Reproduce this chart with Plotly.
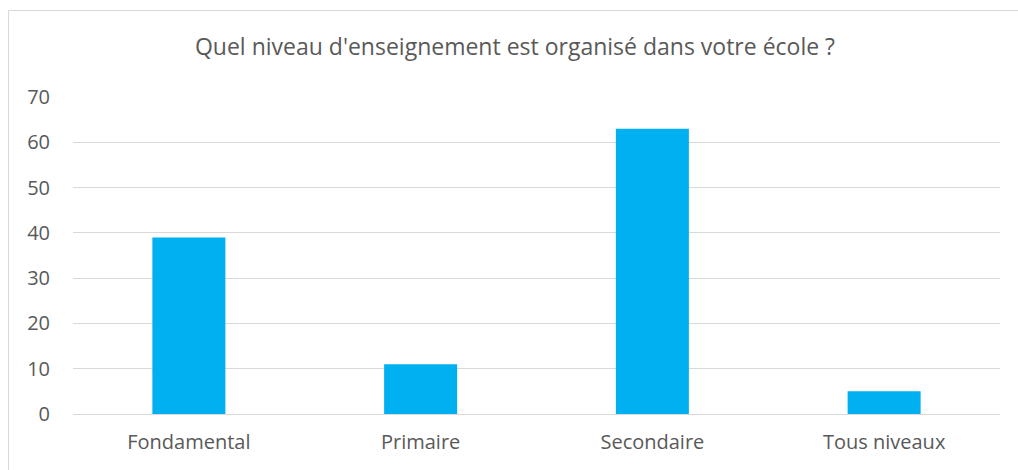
import plotly.graph_objects as go

categories = ["Fondamental", "Primaire", "Secondaire", "Tous niveaux"]
values = [39, 11, 63, 5]
y_ticks = [0, 10, 20, 30, 40, 50, 60, 70]
title_text = "Quel niveau d'enseignement est organisé dans votre école ?"

# body margin is removed, so the figure fills the page at (0, 0)
W, H = 1018, 470
ml, mr, mt, mb = 73, W - 1000, 97, H - 414
pw, ph = W - ml - mr, H - mt - mb

fig = go.Figure(go.Bar(x=categories, y=values, marker_color="#00B0F0",
                       marker_line_width=0, width=0.315))

def px2x(p):
    return (p - ml) / pw

def py2y(p):
    return 1 - (p - mt) / ph

border = dict(color="#D9D9D9", width=1)
fig.update_layout(
    width=W, height=H,
    margin=dict(l=ml, r=mr, t=mt, b=mb, autoexpand=False),
    plot_bgcolor="white", paper_bgcolor="white",
    font=dict(family="Open Sans", size=20, color="#595959"),
    title=dict(text=title_text, x=px2x(515), xanchor="center", y=1 - 47 / H,
               yanchor="middle", xref="paper",
               font=dict(size=23, color="#595959")),
    showlegend=False,
    xaxis=dict(showgrid=False, showline=False, ticks="", zeroline=False,
               ticklabelstandoff=14, automargin=False,
               tickfont=dict(size=20, color="#595959")),
    yaxis=dict(range=[0, 70], tickvals=y_ticks, showgrid=True, gridcolor="#D9D9D9",
               gridwidth=1, zeroline=True, zerolinecolor="#D9D9D9", zerolinewidth=1,
               showline=False, ticks="", ticklabelstandoff=22, automargin=False,
               tickfont=dict(size=20, color="#595959")),
    shapes=[
        dict(type="line", xref="paper", yref="paper",
             x0=px2x(8.5), x1=px2x(1030), y0=py2y(10.5), y1=py2y(10.5),
             line=border, layer="below"),
        dict(type="line", xref="paper", yref="paper",
             x0=px2x(8.5), x1=px2x(8.5), y0=py2y(10.5), y1=py2y(500),
             line=border, layer="below"),
    ],
)

fig.write_html("out.html", config={"displayModeBar": False},
               post_script="document.body.style.margin='0';document.body.style.overflow='hidden';")
